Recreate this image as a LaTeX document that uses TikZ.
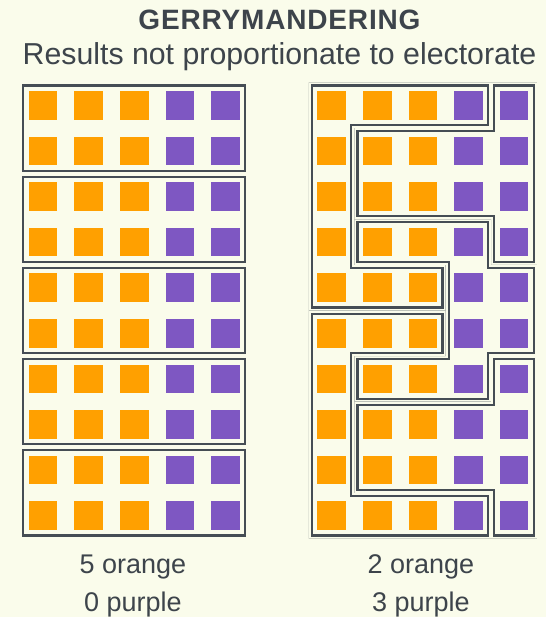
\documentclass[tikz,border=0pt]{standalone}
\usepackage{fontspec}
\setmainfont{Liberation Sans}
\newfontfamily\ttlfont{Liberation Sans}[LetterSpace=3]
\definecolor{bgc}{RGB}{250,252,235}
\definecolor{orangec}{RGB}{255,160,0}
\definecolor{purplec}{RGB}{126,87,194}
\definecolor{linec}{RGB}{69,77,84}
\definecolor{textc}{RGB}{61,68,75}
\newcommand\mydistrict[1]{%
  \begin{scope}
    \clip #1;
    \draw[line width=8.4pt,linec,line join=miter] #1;
    \draw[line width=4pt,bgc,line join=miter] #1;
  \end{scope}}
\begin{document}
\begin{tikzpicture}[x=1pt,y=-1pt,
  boxline/.style={draw=linec,line width=2.2pt},
  caption/.style={text=textc,font=\fontsize{27}{32}\selectfont,anchor=base,inner sep=0pt}]
\fill[bgc] (0,0) rectangle (546,617);
\useasboundingbox (0,0) rectangle (546,617);
% titles
\node[text=textc,anchor=base,inner sep=0pt,font=\ttlfont\bfseries\fontsize{28}{32}\selectfont] (title) at (279.5,29.5) {GERRYMANDERING};
\node[text=textc,anchor=base,inner sep=0pt,font=\fontsize{30.3}{34}\selectfont] (subtitle) at (279.5,65) {Results not proportionate to electorate};
% left districts (boxes)
\foreach \k in {0,...,4}
  \draw[boxline] ({20.2+3},{82.5+91.2*\k+3}) rectangle ({20.2+228-3},{82.5+91.2*\k+91.2-3});
% right districts
\begin{scope}[shift={(308.8,82.5)},x=45.6pt,y=-45.6pt]
  \mydistrict{(0,0)--(4,0)--(4,1)--(1,1)--(1,4)--(3,4)--(3,5)--(0,5)--cycle}
  \mydistrict{(4,0)--(5,0)--(5,4)--(4,4)--(4,3)--(1,3)--(1,1)--(4,1)--cycle}
  \mydistrict{(1,3)--(4,3)--(4,4)--(5,4)--(5,6)--(4,6)--(4,7)--(1,7)--(1,6)--(3,6)--(3,4)--(1,4)--cycle}
  \mydistrict{(0,5)--(3,5)--(3,6)--(1,6)--(1,9)--(4,9)--(4,10)--(0,10)--cycle}
  \mydistrict{(4,6)--(5,6)--(5,10)--(4,10)--(4,9)--(1,9)--(1,7)--(4,7)--cycle}
\end{scope}
% voters
\foreach \gx in {20.2,308.8}
  \foreach \r in {0,...,9}
    \foreach \c in {0,...,4}{
      \ifnum\c<3 \def\col{orangec}\else\def\col{purplec}\fi
      \fill[\col] ({\gx+45.6*\c+8.5},{82.5+45.6*\r+8.5}) rectangle +(28.6,28.6);
    }
% captions
\node[caption] (lo) at (133,573.3) {5 orange};
\node[caption] (lp) at (133,611) {0 purple};
\node[caption] (ro) at (421,573.3) {2 orange};
\node[caption] (rp) at (421,611) {3 purple};
\end{tikzpicture}
\end{document}
